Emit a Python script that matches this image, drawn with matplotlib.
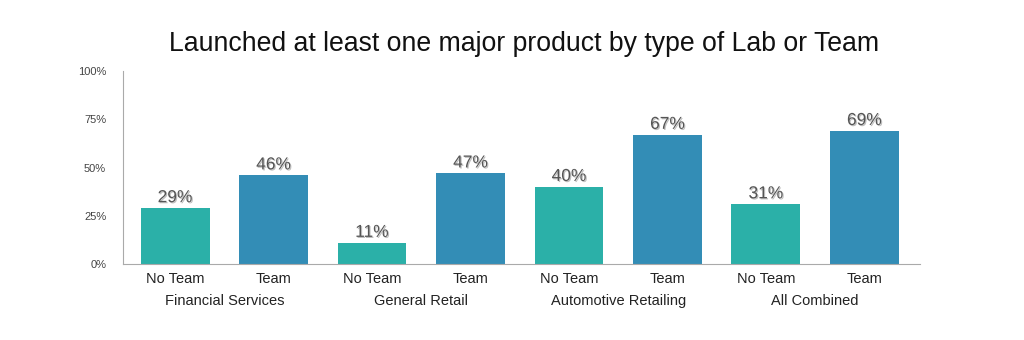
import matplotlib.pyplot as plt
import matplotlib.patheffects as pe

plt.rcParams["font.family"] = ["Liberation Sans", "DejaVu Sans"]

groups = ["Financial Services", "General Retail", "Automotive Retailing", "All Combined"]
bar_labels = ["No Team", "Team"]
no_team = [29, 11, 40, 31]
team = [46, 47, 67, 69]
yticks = [0, 25, 50, 75, 100]

teal = "#2bb0a8"
blue = "#338db6"

fig = plt.figure(figsize=(10.24, 3.4), dpi=100)
ax = fig.add_axes([0.120, 0.2235, 0.778, 0.5675])

positions, values, colors, names = [], [], [], []
for i in range(len(groups)):
    positions += [2 * i, 2 * i + 1]
    values += [no_team[i], team[i]]
    colors += [teal, blue]
    names += bar_labels

bars = ax.bar(positions, values, width=0.7, color=colors)
shadow = [pe.withSimplePatchShadow(offset=(0.8, -0.8), shadow_rgbFace="#000000", alpha=0.25)]
for b, v in zip(bars, values):
    ax.text(b.get_x() + b.get_width() / 2, v + 1.5, f"{v}%", ha="center", va="bottom",
            fontsize=12.5, color="#555555", path_effects=shadow)

ax.set_xlim(-0.53, 7.56)
ax.set_ylim(0, 100)
ax.set_yticks(yticks)
ax.set_yticklabels([f"{t}%" for t in yticks], fontsize=8, color="#444444")
ax.set_xticks(positions)
ax.set_xticklabels(names, fontsize=10.5, color="#222222")
ax.tick_params(axis="both", length=0)
ax.tick_params(axis="x", pad=6)
ax.tick_params(axis="y", pad=12)

for i, g in enumerate(groups):
    ax.text(2 * i + 0.5, -0.155, g, transform=ax.get_xaxis_transform(), ha="center", va="top",
            fontsize=10.5, color="#222222")

for s in ["top", "right"]:
    ax.spines[s].set_visible(False)
for s in ["left", "bottom"]:
    ax.spines[s].set_color("#aaaaaa")
    ax.spines[s].set_linewidth(0.8)

fig.text(0.512, 0.87, "Launched at least one major product by type of Lab or Team",
         ha="center", va="center", fontsize=19.2, color="#111111")

fig.savefig("out.png", dpi=100)
